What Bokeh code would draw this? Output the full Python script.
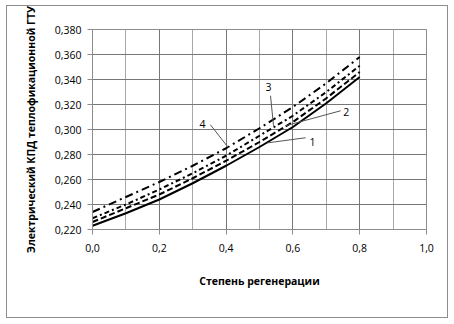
from bokeh.plotting import figure
from bokeh.embed import file_html
from bokeh.resources import INLINE
from bokeh.models import (CustomJSTickFormatter, FixedTicker, Range1d)
from bokeh.core.properties import value

# data
x_vals = [0.0, 0.1, 0.2, 0.3, 0.4, 0.5, 0.6, 0.7, 0.8]
s1 = [0.223, 0.233, 0.244, 0.257, 0.271, 0.286, 0.302, 0.321, 0.342]
s2 = [0.226, 0.237, 0.248, 0.261, 0.275, 0.290, 0.306, 0.325, 0.346]
s3 = [0.229, 0.240, 0.252, 0.265, 0.279, 0.295, 0.311, 0.330, 0.351]
s4 = [0.234, 0.246, 0.258, 0.271, 0.285, 0.301, 0.318, 0.337, 0.358]
series_names = ["1", "2", "3", "4"]
label_x = [0.659, 0.760, 0.527, 0.329]
label_y = [0.2902, 0.3142, 0.3342, 0.3046]
lead_x0 = [0.638, 0.743, 0.533, 0.353]
lead_y0 = [0.2934, 0.315, 0.327, 0.3038]
lead_x1 = [0.524, 0.578, 0.542, 0.407]
lead_y1 = [0.2893, 0.303, 0.303, 0.2854]
x_ticks = [0.0, 0.2, 0.4, 0.6, 0.8, 1.0]
x_minor = [0.1, 0.3, 0.5, 0.7, 0.9]
y_ticks = [0.22, 0.24, 0.26, 0.28, 0.30, 0.32, 0.34, 0.36, 0.38]

FONT = "Open Sans"

p = figure(width=442, height=313, output_backend="svg", toolbar_location=None,
           x_range=Range1d(0, 1.0), y_range=Range1d(0.22, 0.38),
           min_border_left=86, min_border_right=22, min_border_top=24, min_border_bottom=89)
p.margin = (5, 6, 6, 6)
p.border_fill_color = None
p.styles = {"outline": "1px solid #8c8c8c", "outline-offset": "-1px"}
p.outline_line_color = "#8c8c8c"
p.background_fill_color = "white"

p.xaxis.ticker = FixedTicker(ticks=x_ticks, minor_ticks=x_minor)
p.yaxis.ticker = FixedTicker(ticks=y_ticks)
p.xaxis.formatter = CustomJSTickFormatter(code="return tick.toFixed(1).replace('.', ',');")
p.yaxis.formatter = CustomJSTickFormatter(code="return tick.toFixed(3).replace('.', ',');")
for ax in (p.xaxis, p.yaxis):
    ax.axis_line_color = "#8c8c8c"
    ax.major_tick_line_color = "#8c8c8c"
    ax.major_tick_out = 5
    ax.major_tick_in = 0
    ax.minor_tick_line_color = None
    ax.major_label_text_font = FONT
    ax.major_label_text_font_size = "10.5px"
    ax.major_label_text_color = "black"
    ax.axis_label_text_font = FONT
    ax.axis_label_text_font_size = "10.5px"
    ax.axis_label_text_font_style = "bold"
    ax.axis_label_text_color = "black"
p.xaxis.axis_label = "Степень регенерации"
p.yaxis.axis_label = "Электрический КПД теплофикационной ГТУ"
p.xaxis.major_label_standoff = 9
p.xaxis.axis_label_standoff = 19
p.yaxis.major_label_standoff = 6
p.yaxis.axis_label_standoff = 14

p.xgrid.grid_line_color = "#767676"
p.xgrid.minor_grid_line_color = "#a8a8a8"
p.ygrid.grid_line_color = "#767676"

styles = [("solid", s1), ("6 3", s2), ("5 3 2 3", s3), ("8 4 2 4", s4)]
for dash, ys in styles:
    p.line(x_vals, ys, line_color="black", line_width=2, line_dash=dash)

p.segment(x0=lead_x0, y0=lead_y0, x1=lead_x1, y1=lead_y1, line_color="#555555", line_width=1)
p.text(x=label_x, y=label_y, text=series_names, text_font=value(FONT), text_font_size="10.5px",
       text_color="black", text_align="center", text_baseline="middle")

open("out.html", "w").write(file_html(p, INLINE))
